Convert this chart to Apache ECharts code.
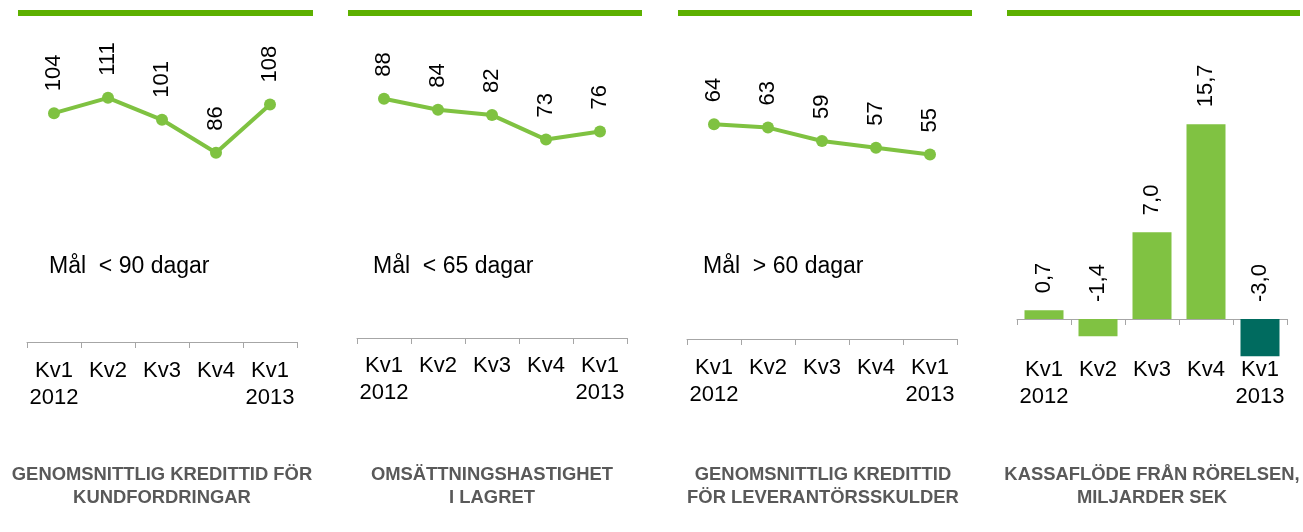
<!DOCTYPE html>
<html>
<head>
<meta charset="utf-8">
<script src="https://cdn.jsdelivr.net/npm/echarts@6/dist/echarts.min.js"></script>
<style>
html,body{margin:0;padding:0;background:#fff;}
#c{width:1303px;height:532px;}
</style>
</head>
<body>
<div id="c"></div>
<script>
// ---- data ----
var categories = ['Kv1\n2012', 'Kv2', 'Kv3', 'Kv4', 'Kv1\n2013'];
var kreditKund = [104, 111, 101, 86, 108];
var lagerOms = [88, 84, 82, 73, 76];
var kreditLev = [64, 63, 59, 57, 55];
var kassaflode = [0.7, -1.4, 7.0, 15.7, -3.0];
var panelTitles = [
  'GENOMSNITTLIG KREDITTID FÖR\nKUNDFORDRINGAR',
  'OMSÄTTNINGSHASTIGHET\nI LAGRET',
  'GENOMSNITTLIG KREDITTID\nFÖR LEVERANTÖRSSKULDER',
  'KASSAFLÖDE FRÅN RÖRELSEN,\nMILJARDER SEK'
];
var goalTexts = ['Mål  < 90 dagar', 'Mål  < 65 dagar', 'Mål  > 60 dagar'];

// ---- style / layout ----
var FONT = '"Liberation Sans", Arial, Helvetica, sans-serif';
var LINE_GREEN = '#7fc241';
var BAR_GREEN = '#80c242';
var DARK_TEAL = '#006b5f';
var TOP_GREEN = '#5db000';
var AXIS_GRAY = '#a6a6a6';

var grids = [
  {left: 27, width: 270, top: 34, height: 308},
  {left: 357, width: 270, top: 39, height: 299},
  {left: 687, width: 270, top: 37, height: 302},
  {left: 1017, width: 270, top: 71, height: 285.2}
];
var yRanges = [[0, 140], [0, 110], [0, 90], [-3, 20]];
var labelMargins = [15, 14, 15, 0];
var topBars = [[18, 313], [348, 642], [678, 972], [1007, 1300]];
var titleCenters = [162, 492, 823, 1152];
var goalX = [49, 373, 703];

var xAxes = grids.map(function (g, i) {
  return {
    type: 'category', gridIndex: i, data: categories,
    boundaryGap: true,
    axisLine: {show: true, onZero: true, lineStyle: {color: AXIS_GRAY, width: 1}},
    axisTick: {show: true, length: 6, lineStyle: {color: AXIS_GRAY}},
    axisLabel: {color: '#000', fontFamily: FONT, fontSize: 22, lineHeight: 27, margin: labelMargins[i], interval: 0},
    splitLine: {show: false}
  };
});
var yAxes = grids.map(function (g, i) {
  return {
    type: 'value', gridIndex: i, min: yRanges[i][0], max: yRanges[i][1],
    show: false, splitLine: {show: false}
  };
});

var valueLabel = {
  show: true, position: 'top', rotate: 90, align: 'left', verticalAlign: 'middle',
  color: '#000', fontFamily: FONT, fontSize: 22
};

function lineSeries(data, idx) {
  return {
    type: 'line', xAxisIndex: idx, yAxisIndex: idx, data: data,
    symbol: 'circle', symbolSize: 12,
    lineStyle: {color: LINE_GREEN, width: 4},
    itemStyle: {color: LINE_GREEN},
    label: Object.assign({}, valueLabel, {distance: 16}),
    animation: false
  };
}

var series = [
  lineSeries(kreditKund, 0),
  lineSeries(lagerOms, 1),
  lineSeries(kreditLev, 2),
  {
    type: 'bar', xAxisIndex: 3, yAxisIndex: 3, data: kassaflode,
    barWidth: 39,
    itemStyle: {
      color: function (p) { return p.dataIndex === kassaflode.length - 1 ? DARK_TEAL : BAR_GREEN; }
    },
    label: Object.assign({}, valueLabel, {
      distance: 17,
      formatter: function (p) { return p.value.toFixed(1).replace('.', ','); }
    }),
    animation: false
  }
];

var graphics = [];
topBars.forEach(function (b) {
  graphics.push({type: 'rect', shape: {x: b[0], y: 10, width: b[1] - b[0], height: 6}, style: {fill: TOP_GREEN}, silent: true});
});
goalTexts.forEach(function (t, i) {
  graphics.push({type: 'text', x: goalX[i], y: 267, style: {
    text: t, font: '23px ' + FONT, fill: '#000',
    align: 'left', verticalAlign: 'middle', textAlign: 'left', textVerticalAlign: 'middle'
  }, silent: true});
});
panelTitles.forEach(function (t, i) {
  graphics.push({type: 'text', x: titleCenters[i], y: 463, style: {
    text: t, font: 'bold 18.4px ' + FONT, fill: '#595959', lineHeight: 23,
    align: 'center', verticalAlign: 'top', textAlign: 'center', textVerticalAlign: 'top'
  }, silent: true});
});

var chart = echarts.init(document.getElementById('c'), null, {renderer: 'canvas'});
chart.setOption({
  backgroundColor: '#fff',
  animation: false,
  grid: grids,
  xAxis: xAxes,
  yAxis: yAxes,
  series: series,
  graphic: graphics
});
</script>
</body>
</html>
